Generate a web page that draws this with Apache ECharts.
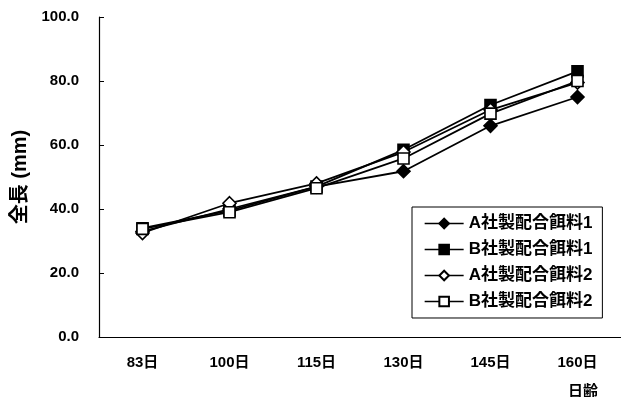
<!DOCTYPE html>
<html><head><meta charset="utf-8">
<script src="https://cdn.jsdelivr.net/npm/echarts@6/dist/echarts.min.js"></script>
<style>html,body{margin:0;padding:0;background:#fff}#c{width:621px;height:397px}</style>
</head><body><div id="c"></div>
<script>
var categories = ['83日','100日','115日','130日','145日','160日'];
var yTicks = [0,20,40,60,80,100];
var seriesNames = ['A社製配合餌料1','B社製配合餌料1','A社製配合餌料2','B社製配合餌料2'];
var a1 = [33.0, 40.0, 47.0, 51.8, 66.0, 75.0];
var b1 = [34.0, 39.5, 47.0, 58.5, 72.5, 83.0];
var a2 = [32.5, 41.8, 48.0, 57.8, 71.0, 79.5];
var b2 = [33.8, 39.0, 46.5, 55.8, 69.8, 80.0];

var font = '"Liberation Sans", "Noto Sans CJK JP", sans-serif';
var chart = echarts.init(document.getElementById('c'));
function mk(name, data, symbol, filled, size){
  return {
    name: name, type: 'line', data: data, symbol: symbol, symbolSize: size,
    showAllSymbol: true,
    lineStyle: {color: '#000', width: 1.8},
    itemStyle: {color: filled ? '#000' : '#fff', borderColor: '#000', borderWidth: 1.6},
    emphasis: {disabled: true}, animation: false
  };
}
chart.setOption({
  animation: false,
  backgroundColor: '#fff',
  grid: {left: 99, top: 17, bottom: 60, right: -6, containLabel: false},
  legend: {
    orient: 'vertical', left: 412, top: 207,
    padding: [8, 10, 8, 12], itemGap: 9, itemWidth: 39, itemHeight: 12,
    borderColor: '#000', borderWidth: 1,
    lineStyle: {width: 1.3},
    textStyle: {fontFamily: font, fontWeight: 'bold', fontSize: 17, color: '#000'},
    data: seriesNames
  },
  xAxis: {
    type: 'category', data: categories, boundaryGap: true,
    axisLine: {lineStyle: {color: '#000', width: 1.2}},
    axisTick: {inside: true, length: 4, interval: 0, lineStyle: {color: '#000'}},
    axisLabel: {margin: 18, fontFamily: font, fontWeight: 'bold', fontSize: 15, color: '#000'}
  },
  yAxis: {
    type: 'value', min: 0, max: 100, interval: 20,
    name: '全長 (mm)', nameLocation: 'middle', nameGap: 67,
    nameTextStyle: {fontFamily: font, fontWeight: 'bold', fontSize: 20, color: '#000'},
    axisLine: {show: true, lineStyle: {color: '#000', width: 1.2}},
    axisTick: {show: true, inside: true, length: 5, lineStyle: {color: '#000'}},
    splitLine: {show: false},
    axisLabel: {margin: 20, fontFamily: font, fontWeight: 'bold', fontSize: 15, color: '#000',
      formatter: function(v){ return v.toFixed(1); }}
  },
  graphic: [{type: 'text', left: 568, top: 384,
    style: {text: '日齢', fontFamily: font, fontWeight: 'bold', fontSize: 15, fill: '#000'}}],
  series: [
    mk(seriesNames[0], a1, 'diamond', true, 13),
    mk(seriesNames[1], b1, 'rect', true, 11),
    mk(seriesNames[2], a2, 'diamond', false, 13),
    mk(seriesNames[3], b2, 'rect', false, 11)
  ]
});
</script></body></html>
